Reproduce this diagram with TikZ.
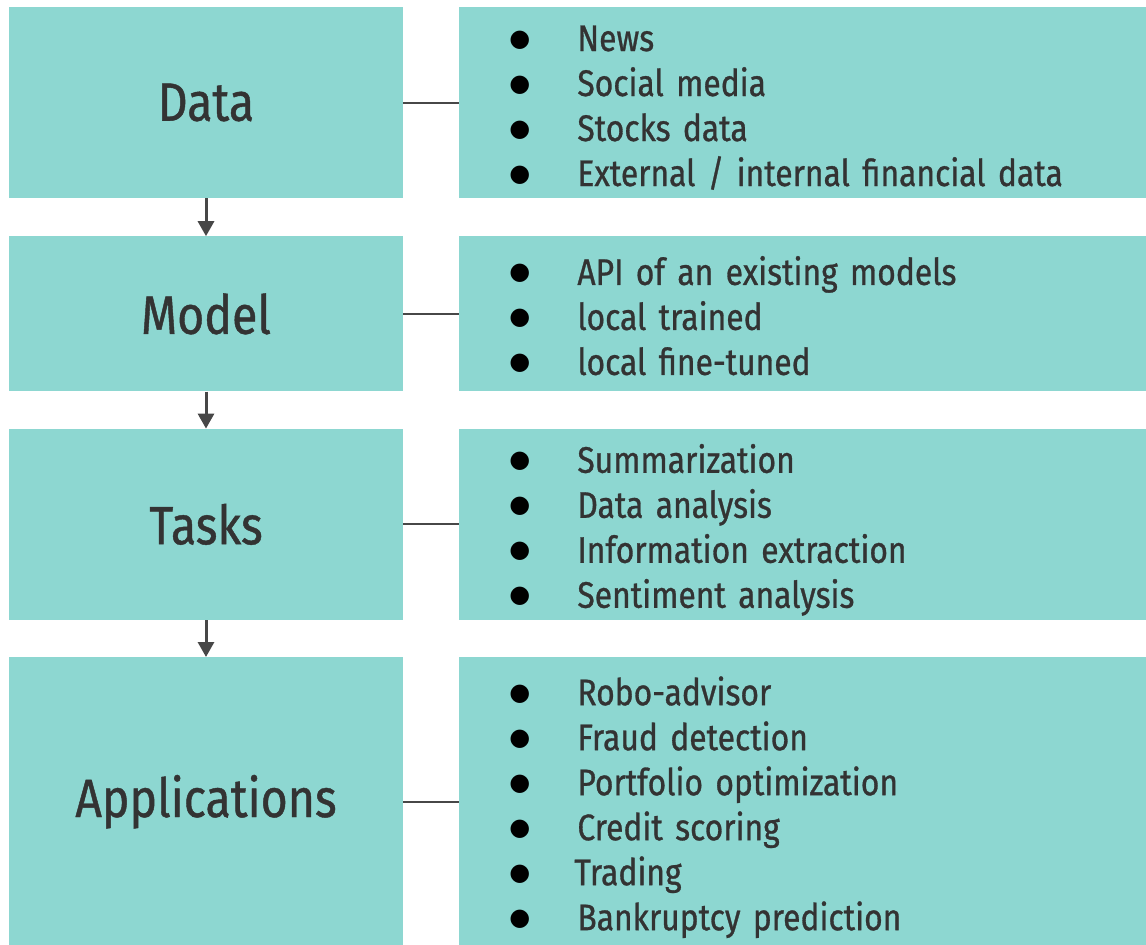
\documentclass[tikz,border=0pt]{standalone}
\usepackage{fontspec}
\setmainfont{Fira Sans}[FakeStretch=0.86, FakeBold=0.8, WordSpace=0.75]
\newfontfamily\symbfont{DejaVu Sans}
\usetikzlibrary{positioning, arrows.meta}
\definecolor{boxteal}{HTML}{8DD7D1}
\definecolor{ink}{HTML}{333333}
\newcommand\itm{\makebox[68pt][l]{\raisebox{5pt}{\color{black}\symbfont\fontsize{24}{24}\selectfont ●}}}
\tikzset{
    stagebox/.style={fill=boxteal, minimum width=394pt, inner sep=0pt, text=ink, font=\fontsize{54}{60}\selectfont},
    listbox/.style={fill=boxteal, text width=587pt, inner xsep=50pt, inner ysep=0pt, align=left, text=ink, font=\fontsize{37}{45}\selectfont,
        execute at begin node={\rule{0pt}{44pt}}, execute at end node={\rule[-12pt]{0pt}{0pt}}},
    link/.style={draw=ink!90, line width=2pt},
    flow/.style={draw=ink!90, line width=3pt, ->}
}

\begin{document}
\begin{tikzpicture}[x=1pt, y=-1pt, >={Triangle[width=16pt, length=15pt]}]
  \useasboundingbox (0,0) rectangle (1146,945);

  \node(D)[stagebox, minimum height=191pt] at (206,102.5){Data};
  \node(M)[stagebox, minimum height=155pt, below=38pt of D]{Model};
  \node(T)[stagebox, minimum height=191pt, below=37pt of M]{Tasks};
  \node(A)[stagebox, minimum height=289pt, below=37pt of T]{Applications};

  \node(DL)[listbox, minimum height=191pt, right=56pt of D]{\itm News\\ \itm Social media\\ \itm Stocks data\\ \itm External / internal financial data};
  \node(ML)[listbox, minimum height=155pt, right=56pt of M]{\itm API of an existing models\\ \itm local trained\\ \itm local fine-tuned};
  \node(TL)[listbox, minimum height=191pt, right=56pt of T]{\itm Summarization\\ \itm Data analysis\\ \itm Information extraction\\ \itm Sentiment analysis};
  \node(AL)[listbox, minimum height=289pt, right=56pt of A]{\itm Robo-advisor\\ \itm Fraud detection\\ \itm Portfolio optimization\\ \itm Credit scoring\\ \itm\hspace{-3pt}Trading\\ \itm Bankruptcy prediction};

  \draw[link](D)--(DL);
  \draw[link](M)--(ML);
  \draw[link](T)--(TL);
  \draw[link](A)--(AL);

  \draw[flow](D)--(M);
  \draw[flow](M)--(T);
  \draw[flow](T)--(A);
\end{tikzpicture}
\end{document}
